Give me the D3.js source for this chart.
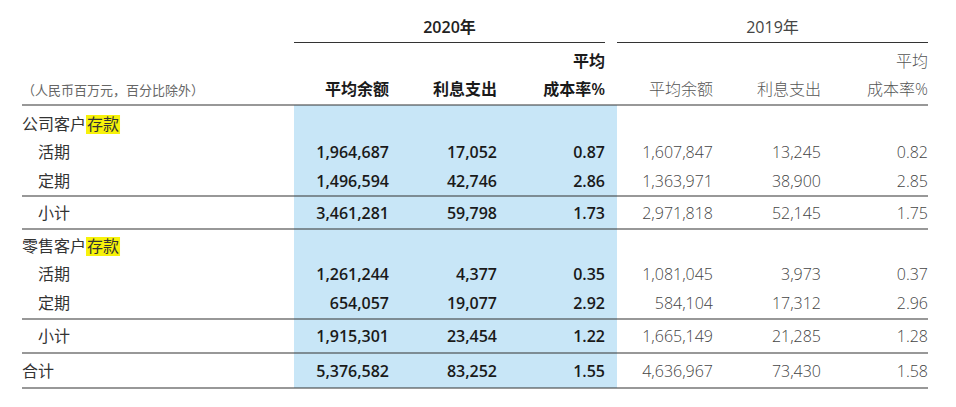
<!DOCTYPE html><html><head><meta charset="utf-8"><script src="https://cdn.jsdelivr.net/npm/d3@7"></script>
<style>body{margin:0;background:#fff}text{font-family:"Open Sans","Noto Sans CJK SC",sans-serif}</style></head><body>
<script>
const years=["2020年","2019年"];
const colHeads=["平均余额","利息支出","成本率%"];
const unitNote="（人民币百万元，百分比除外）";
const rowLabels=["公司客户存款","活期","定期","小计","零售客户存款","活期","定期","小计","合计"];
const bal2020=[null,1964687,1496594,3461281,null,1261244,654057,1915301,5376582];
const int2020=[null,17052,42746,59798,null,4377,19077,23454,83252];
const rate2020=[null,0.87,2.86,1.73,null,0.35,2.92,1.22,1.55];
const bal2019=[null,1607847,1363971,2971818,null,1081045,584104,1665149,4636967];
const int2019=[null,13245,38900,52145,null,3973,17312,21285,73430];
const rate2019=[null,0.82,2.85,1.75,null,0.37,2.96,1.28,1.58];

const W=956,H=407;
const svg=d3.select("body").append("svg").attr("width",W).attr("height",H);
const rowY=[124,152,181,213,246,274,303,336,371];
const rules=[105,196,229,319,353,388];
const y=d3.scaleOrdinal().domain(d3.range(rowLabels.length)).range(rowY);
const colRight=d3.scaleOrdinal().domain(d3.range(6)).range([389,497,605,713,821,928]);
// blue band
svg.append("rect").attr("x",294).attr("y",105).attr("width",323).attr("height",283).attr("fill","#c8e6f7");
// year headers
const yearSpan=[[294,605],[617,928]];
years.forEach((t,i)=>{
  const [a,b]=yearSpan[i];
  svg.append("line").attr("x1",a).attr("x2",b).attr("y1",42.5).attr("y2",42.5).attr("stroke","#333").attr("stroke-width",1.2);
  svg.append("text").attr("x",(a+b)/2).attr("y",33).attr("text-anchor","middle").attr("font-size",16)
    .attr("fill",i?"#444":"#222").attr("font-weight",i?400:600).text(t);
});
for(let c=0;c<6;c++){
  const bold=c<3;
  const g=svg.append("g").attr("font-size",16).attr("fill",bold?"#1a1a1a":"#555").attr("font-weight",bold?600:300).attr("text-anchor","end");
  g.append("text").attr("x",colRight(c)).attr("y",95).text(colHeads[c%3]);
  if(c%3===2) g.append("text").attr("x",colRight(c)).attr("y",67).text("平均");
}
svg.append("text").attr("x",22).attr("y",95).attr("font-size",13).attr("fill","#666").text(unitNote);
rules.forEach((r,i)=>svg.append("line").attr("x1",22).attr("x2",928).attr("y1",r).attr("y2",r).attr("stroke","#333").attr("stroke-width",1.2));
// row labels
rowLabels.forEach((l,i)=>{
  const ind=(l==="活期"||l==="定期"||l==="小计")?38:22;
  const yy=y(i)+6;
  if(l.endsWith("存款")){
    const base=l.slice(0,-2);
    const t=svg.append("text").attr("x",ind).attr("y",yy).attr("font-size",16).attr("fill","#333").text(base);
    const w=t.node().getComputedTextLength();
    svg.append("rect").attr("x",ind+w).attr("y",yy-15).attr("width",34).attr("height",19).attr("fill","#f7f20a");
    svg.append("text").attr("x",ind+w+1).attr("y",yy).attr("font-size",16).attr("fill","#333").text("存款");
  } else svg.append("text").attr("x",ind).attr("y",yy).attr("font-size",16).attr("fill","#333").attr("font-weight",l==="合计"?400:400).text(l);
});
const cols=[bal2020,int2020,rate2020,bal2019,int2019,rate2019];
const fInt=d3.format(","),fR=d3.format(".2f");
cols.forEach((arr,c)=>{
  const bold=c<3;
  svg.append("g").selectAll("text").data(arr.map((v,i)=>({v,i})).filter(d=>d.v!=null)).join("text")
    .attr("x",colRight(c)).attr("y",d=>y(d.i)+6).attr("text-anchor","end").attr("font-size",16)
    .attr("fill",bold?"#1a1a1a":"#444").attr("font-weight",bold?600:300)
    .text(d=>c%3===2?fR(d.v):fInt(d.v));
});
</script></body></html>
